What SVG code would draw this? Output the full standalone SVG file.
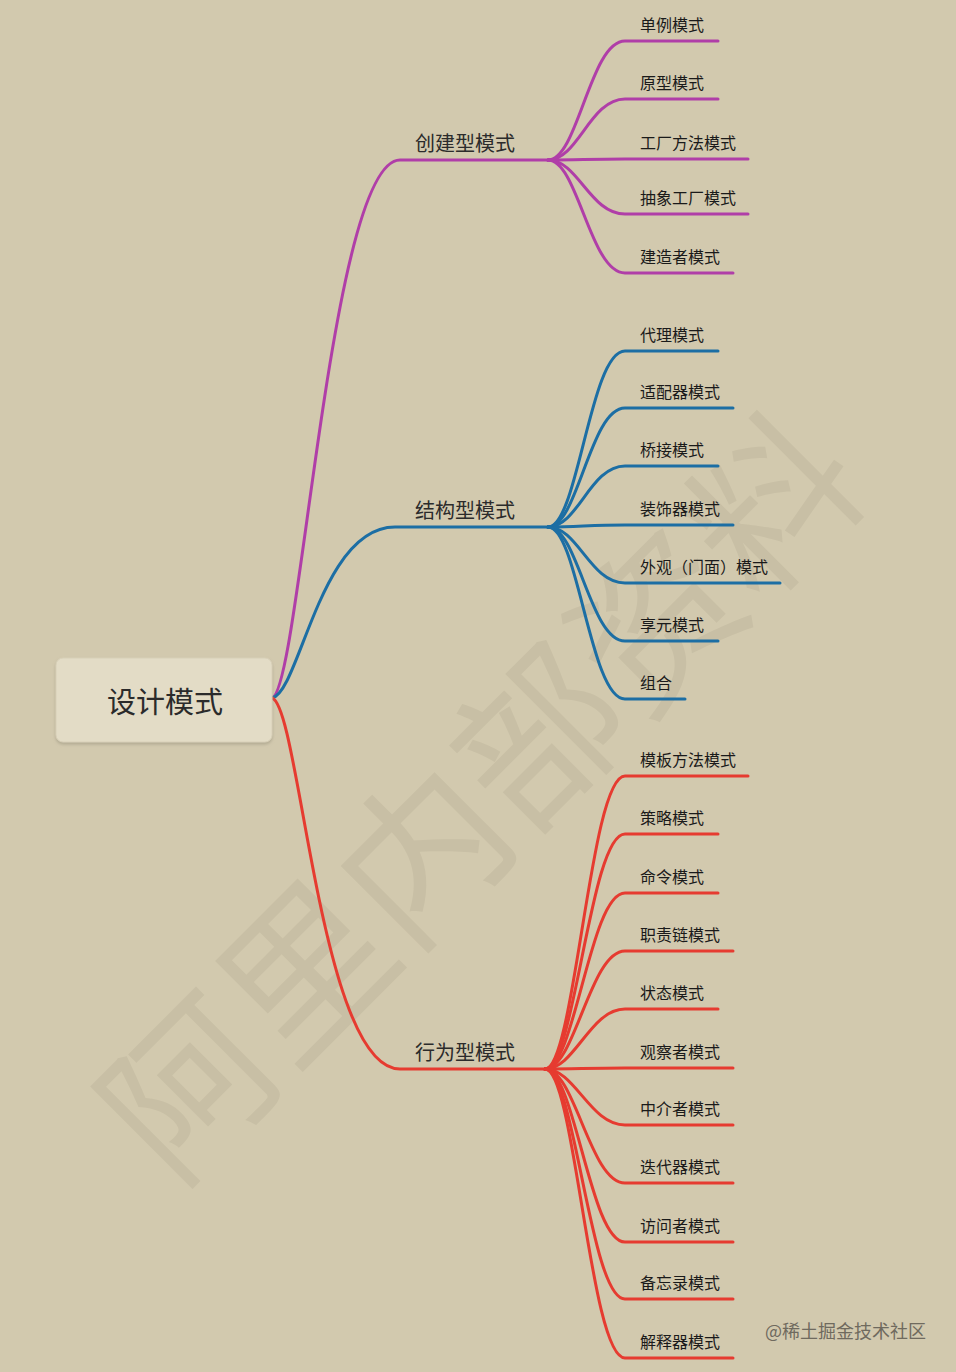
<svg xmlns="http://www.w3.org/2000/svg" width="956" height="1372" viewBox="0 0 956 1372">
<defs>
<style>
.bg{fill:#d2c9ae}
.wm{font-family:"Noto Sans CJK SC","Liberation Serif",serif;fill:#c8bfa5}
.root{fill:#e3dcc6;stroke:#d8d0b8;stroke-width:1}
.rt{font-family:"Noto Sans CJK SC","Liberation Sans",sans-serif;font-size:29px;fill:#2b2b2b;text-anchor:middle}
.bt{font-family:"Noto Sans CJK SC","Liberation Sans",sans-serif;font-size:20px;fill:#2b2b2b}
.lt{font-family:"Noto Sans CJK SC","Liberation Sans",sans-serif;font-size:16px;fill:#1a1a1a}
.ln{fill:none;stroke-width:3;stroke-linecap:round}
.p{stroke:#b03ea8}
.b{stroke:#1c6ea4}
.r{stroke:#e63b30}
.credit{font-family:"Noto Sans CJK SC","Liberation Sans",sans-serif;font-size:18px;fill:#6f6a5e}
</style>
<filter id="sh" x="-10%" y="-10%" width="120%" height="130%"><feDropShadow dx="0" dy="2" stdDeviation="1.5" flood-color="#9c9480" flood-opacity="0.6"/></filter>
</defs>
<rect class="bg" x="0" y="0" width="956" height="1372"/>
<text class="wm" x="485" y="855" font-size="165" text-anchor="middle" transform="rotate(-45 485 800)">阿里内部资料</text>

<g id="connectors">
<path class="ln p" d="M272,698 C300,690 330,160 400,160 L548,160"/>
<path class="ln b" d="M272,698 C300,692 320,527 395,527 L548,527"/>
<path class="ln r" d="M272,698 C300,706 320,1069 400,1069 L545,1069"/>

<path class="ln p" d="M548,160 C578,160 590,41 625,41 L718,41"/>
<path class="ln p" d="M548,160 C578,160 590,99 625,99 L718,99"/>
<path class="ln p" d="M548,160 C578,160 590,159 625,159 L748,159"/>
<path class="ln p" d="M548,160 C578,160 590,214 625,214 L748,214"/>
<path class="ln p" d="M548,160 C578,160 590,273 625,273 L733,273"/>

<path class="ln b" d="M548,527 C578,527 590,351 625,351 L718,351"/>
<path class="ln b" d="M548,527 C578,527 590,408 625,408 L733,408"/>
<path class="ln b" d="M548,527 C578,527 590,466 625,466 L718,466"/>
<path class="ln b" d="M548,527 C578,527 590,525 625,525 L733,525"/>
<path class="ln b" d="M548,527 C578,527 590,583 625,583 L780,583"/>
<path class="ln b" d="M548,527 C578,527 590,641 625,641 L718,641"/>
<path class="ln b" d="M548,527 C578,527 590,699 625,699 L685,699"/>

<path class="ln r" d="M545,1069 C575,1069 590,776 625,776 L748,776"/>
<path class="ln r" d="M545,1069 C575,1069 590,834 625,834 L718,834"/>
<path class="ln r" d="M545,1069 C575,1069 590,893 625,893 L718,893"/>
<path class="ln r" d="M545,1069 C575,1069 590,951 625,951 L733,951"/>
<path class="ln r" d="M545,1069 C575,1069 590,1009 625,1009 L718,1009"/>
<path class="ln r" d="M545,1069 C575,1069 590,1068 625,1068 L733,1068"/>
<path class="ln r" d="M545,1069 C575,1069 590,1125 625,1125 L733,1125"/>
<path class="ln r" d="M545,1069 C575,1069 590,1183 625,1183 L733,1183"/>
<path class="ln r" d="M545,1069 C575,1069 590,1242 625,1242 L733,1242"/>
<path class="ln r" d="M545,1069 C575,1069 590,1299 625,1299 L733,1299"/>
<path class="ln r" d="M545,1069 C575,1069 590,1358 625,1358 L733,1358"/>
</g>

<g id="root"><rect class="root" x="56" y="658" width="216" height="84" rx="7" filter="url(#sh)"/><text class="rt" x="165" y="713">设计模式</text></g>

<g id="creational"><text class="bt" x="415" y="151">创建型模式</text></g>
<g id="structural"><text class="bt" x="415" y="518">结构型模式</text></g>
<g id="behavioral"><text class="bt" x="415" y="1060">行为型模式</text></g>

<g id="singleton"><text class="lt" x="640" y="31">单例模式</text></g>
<g id="prototype"><text class="lt" x="640" y="89">原型模式</text></g>
<g id="factory-method"><text class="lt" x="640" y="149">工厂方法模式</text></g>
<g id="abstract-factory"><text class="lt" x="640" y="204">抽象工厂模式</text></g>
<g id="builder"><text class="lt" x="640" y="263">建造者模式</text></g>

<g id="proxy"><text class="lt" x="640" y="341">代理模式</text></g>
<g id="adapter"><text class="lt" x="640" y="398">适配器模式</text></g>
<g id="bridge"><text class="lt" x="640" y="456">桥接模式</text></g>
<g id="decorator"><text class="lt" x="640" y="515">装饰器模式</text></g>
<g id="facade"><text class="lt" x="640" y="573">外观（门面）模式</text></g>
<g id="flyweight"><text class="lt" x="640" y="631">享元模式</text></g>
<g id="composite"><text class="lt" x="640" y="689">组合</text></g>

<g id="template-method"><text class="lt" x="640" y="766">模板方法模式</text></g>
<g id="strategy"><text class="lt" x="640" y="824">策略模式</text></g>
<g id="command"><text class="lt" x="640" y="883">命令模式</text></g>
<g id="chain"><text class="lt" x="640" y="941">职责链模式</text></g>
<g id="state"><text class="lt" x="640" y="999">状态模式</text></g>
<g id="observer"><text class="lt" x="640" y="1058">观察者模式</text></g>
<g id="mediator"><text class="lt" x="640" y="1115">中介者模式</text></g>
<g id="iterator"><text class="lt" x="640" y="1173">迭代器模式</text></g>
<g id="visitor"><text class="lt" x="640" y="1232">访问者模式</text></g>
<g id="memento"><text class="lt" x="640" y="1289">备忘录模式</text></g>
<g id="interpreter"><text class="lt" x="640" y="1348">解释器模式</text></g>

<text class="credit" x="765" y="1338">@稀土掘金技术社区</text>
</svg>
